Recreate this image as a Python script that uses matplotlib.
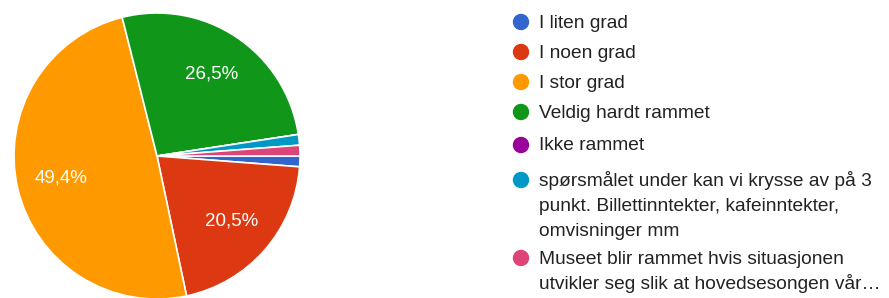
import matplotlib.pyplot as plt
from matplotlib.patches import Circle

plt.rcParams['font.family'] = ['Liberation Sans', 'DejaVu Sans']

# responses per category (legend order)
labels = [
    "I liten grad",
    "I noen grad",
    "I stor grad",
    "Veldig hardt rammet",
    "Ikke rammet",
    "spørsmålet under kan vi krysse av på 3\npunkt. Billettinntekter, kafeinntekter,\nomvisninger mm",
    "Museet blir rammet hvis situasjonen\nutvikler seg slik at hovedsesongen vår…",
]
counts = [1, 17, 41, 22, 0, 1, 1]
colors = ["#3366cc", "#dc3912", "#ff9900", "#109618", "#990099", "#0099c6", "#dd4477"]

W, H = 889, 298
fig = plt.figure(figsize=(W / 100, H / 100), dpi=100)

# pie: centre (157, 156) px from top-left, radius 143 px
cx, cy, r = 157, 156, 143
ax = fig.add_axes([(cx - r) / W, (H - cy - r) / H, 2 * r / W, 2 * r / H])


def fmt(p):
    return f"{p:.1f}%".replace(".", ",") if p > 5 else ""


wedges, texts, autotexts = ax.pie(
    counts, colors=colors, startangle=0, counterclock=False,
    autopct=fmt, pctdistance=0.69, radius=1.0,
    wedgeprops=dict(edgecolor="white", linewidth=1.2),
    textprops=dict(color="white", fontsize=13.5),
)
ax.set_xlim(-1, 1)
ax.set_ylim(-1, 1)
ax.set_aspect("equal")
ax.axis("off")

# legend drawn in pixel coordinates
lax = fig.add_axes([0, 0, 1, 1])
lax.set_xlim(0, W)
lax.set_ylim(H, 0)
lax.axis("off")
row_y = [22, 52, 82, 112, 145, 180, 258]
line_h = 25.5
for lab, col, y in zip(labels, colors, row_y):
    lax.add_patch(Circle((521, y), 7.5, color=col))
    for i, line in enumerate(lab.split("\n")):
        lax.text(539, y + 5.5 + i * line_h, line, color="#222222",
                 fontsize=13.8, va="baseline")

fig.savefig("out.png", dpi=100)
